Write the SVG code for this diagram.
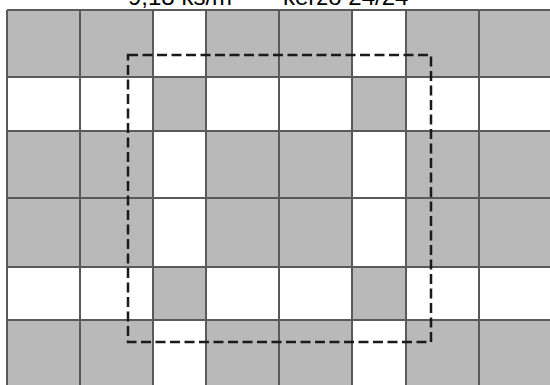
<svg xmlns="http://www.w3.org/2000/svg" width="550" height="385" viewBox="0 0 550 385">
<style>
.g{fill:#b9b9b9}
.w{fill:#ffffff}
.ln{stroke:#5a5a5a;stroke-width:2;fill:none}
.dash{stroke:#1a1a1a;stroke-width:2.5;fill:none;stroke-dasharray:10 4.5}
.t{font-family:"Liberation Sans",Arial,sans-serif;font-size:24px;fill:#000}
</style>
<rect x="0" y="0" width="550" height="385" fill="#fff"/>
<g id="cells">
<rect class="g" x="7" y="10" width="73" height="67"/>
<rect class="g" x="80" y="10" width="73" height="67"/>
<rect class="w" x="153" y="10" width="53" height="67"/>
<rect class="g" x="206" y="10" width="73" height="67"/>
<rect class="g" x="279" y="10" width="73" height="67"/>
<rect class="w" x="352" y="10" width="54" height="67"/>
<rect class="g" x="406" y="10" width="73" height="67"/>
<rect class="g" x="479" y="10" width="71" height="67"/>
<rect class="w" x="7" y="77" width="73" height="54"/>
<rect class="w" x="80" y="77" width="73" height="54"/>
<rect class="g" x="153" y="77" width="53" height="54"/>
<rect class="w" x="206" y="77" width="73" height="54"/>
<rect class="w" x="279" y="77" width="73" height="54"/>
<rect class="g" x="352" y="77" width="54" height="54"/>
<rect class="w" x="406" y="77" width="73" height="54"/>
<rect class="w" x="479" y="77" width="71" height="54"/>
<rect class="g" x="7" y="131" width="73" height="67"/>
<rect class="g" x="80" y="131" width="73" height="67"/>
<rect class="w" x="153" y="131" width="53" height="67"/>
<rect class="g" x="206" y="131" width="73" height="67"/>
<rect class="g" x="279" y="131" width="73" height="67"/>
<rect class="w" x="352" y="131" width="54" height="67"/>
<rect class="g" x="406" y="131" width="73" height="67"/>
<rect class="g" x="479" y="131" width="71" height="67"/>
<rect class="g" x="7" y="198" width="73" height="69"/>
<rect class="g" x="80" y="198" width="73" height="69"/>
<rect class="w" x="153" y="198" width="53" height="69"/>
<rect class="g" x="206" y="198" width="73" height="69"/>
<rect class="g" x="279" y="198" width="73" height="69"/>
<rect class="w" x="352" y="198" width="54" height="69"/>
<rect class="g" x="406" y="198" width="73" height="69"/>
<rect class="g" x="479" y="198" width="71" height="69"/>
<rect class="w" x="7" y="267" width="73" height="53"/>
<rect class="w" x="80" y="267" width="73" height="53"/>
<rect class="g" x="153" y="267" width="53" height="53"/>
<rect class="w" x="206" y="267" width="73" height="53"/>
<rect class="w" x="279" y="267" width="73" height="53"/>
<rect class="g" x="352" y="267" width="54" height="53"/>
<rect class="w" x="406" y="267" width="73" height="53"/>
<rect class="w" x="479" y="267" width="71" height="53"/>
<rect class="g" x="7" y="320" width="73" height="65"/>
<rect class="g" x="80" y="320" width="73" height="65"/>
<rect class="w" x="153" y="320" width="53" height="65"/>
<rect class="g" x="206" y="320" width="73" height="65"/>
<rect class="g" x="279" y="320" width="73" height="65"/>
<rect class="w" x="352" y="320" width="54" height="65"/>
<rect class="g" x="406" y="320" width="73" height="65"/>
<rect class="g" x="479" y="320" width="71" height="65"/>
</g>
<g id="gridlines" class="ln">
<path d="M7 10V385M80 10V385M153 10V385M206 10V385M279 10V385M352 10V385M406 10V385M479 10V385"/>
<path d="M7 10H550M7 77H550M7 131H550M7 198H550M7 267H550M7 320H550"/>
</g>
<rect id="dashed-frame" class="dash" x="128" y="55" width="303" height="287"/>
<text class="t" x="128" y="5">9,18 ks/m² – <tspan x="283">kerzo 24/24</tspan></text>
</svg>
